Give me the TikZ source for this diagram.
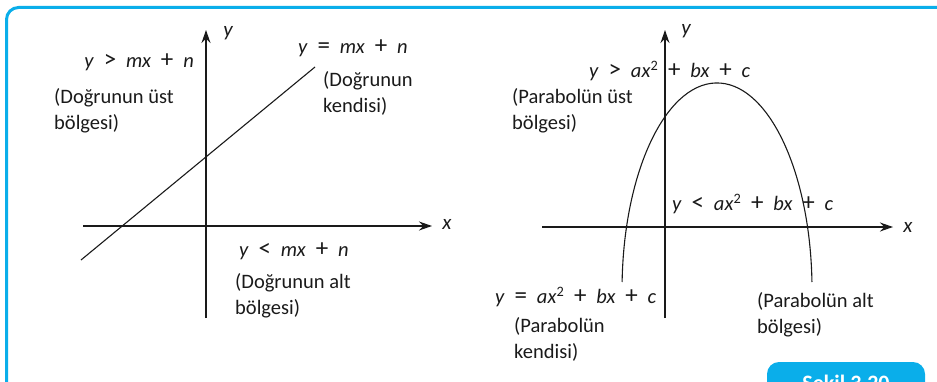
\documentclass[tikz,border=0pt]{standalone}
\usepackage{fontspec}
\setmainfont{Carlito}
\usetikzlibrary{arrows.meta}
\definecolor{ink}{HTML}{1A1A1A}
\definecolor{rimc}{HTML}{0AAEEA}
\tikzset{
  axis/.style={-{Stealth[length=13pt,width=9pt]},draw=ink,line width=1.1pt},
  graph/.style={draw=ink,line width=1.1pt},
  lbl/.style={font=\fontsize{20.5}{26}\selectfont,text=ink,inner sep=0pt,align=left},
  axl/.style={lbl,font=\fontsize{21}{26}\selectfont\itshape},
  rim/.style={draw=rimc,line width=3pt,rounded corners=12pt},
  tab/.style={fill=rimc,rounded corners=12pt},
}
\newcommand{\vr}[1]{\textit{#1}}
\newcommand{\sq}{\textsuperscript{2}}
\newcommand{\op}[1]{\hspace{.48em}{\fontsize{25}{26}\selectfont #1}\hspace{.48em}}

\begin{document}
\begin{tikzpicture}[x=1pt,y=1pt]
  \useasboundingbox (0,0) rectangle (937,381);
  \clip (0,0) rectangle (937,381);
  % frame and tab
  \draw[rim] (6.5,-20) -- (6.5,373.5) -- (960,373.5);
  \fill[tab] (767,-20) rectangle (925,19);
  \node[font=\fontsize{22}{24}\selectfont\bfseries,text=white] (sek) at (846,-4) {Şekil 3.20};

  % left: line
  \coordinate (xa1) at (83,155);  \coordinate (xb1) at (432,155);
  \coordinate (ya1) at (206,63);  \coordinate (yb1) at (206,351);
  \coordinate (la) at (81,121);   \coordinate (lb) at (315,314);
  \draw[axis] (xa1) -- (xb1);
  \draw[axis] (ya1) -- (yb1);
  \draw[graph] (la) -- (lb);
  \node[axl] (xl1) at (447,157) {x};
  \node[axl] (yl1) at (228,348) {y};
  \node[lbl,anchor=east] (ust1) at (194,319) {\vr{y}\op{>}\vr{mx}\op{+}\vr{n}};
  \node[lbl,anchor=west] (ustt1) at (54,270.5) {(Doğrunun üst\\bölgesi)};
  \node[lbl,anchor=west] (esit1) at (298,333) {\vr{y}\op{=}\vr{mx}\op{+}\vr{n}};
  \node[lbl,anchor=west] (esitt1) at (323,287.5) {(Doğrunun\\kendisi)};
  \node[lbl,anchor=west] (alt1) at (239,130) {\vr{y}\op{<}\vr{mx}\op{+}\vr{n}};
  \node[lbl,anchor=west] (altt1) at (235,85.5) {(Doğrunun alt\\bölgesi)};

  % right: parabola
  \coordinate (xa2) at (542,154); \coordinate (xb2) at (893,154);
  \coordinate (ya2) at (665,63);  \coordinate (yb2) at (665,351);
  \coordinate (pa) at (622.1,99);
  \draw[axis] (xa2) -- (xb2);
  \draw[axis] (ya2) -- (yb2);
  \draw[graph] (pa) arc[start angle=177.8,end angle=2.2,x radius=95pt,y radius=207pt];
  \node[axl] (xl2) at (908,154) {x};
  \node[axl] (yl2) at (686,350) {y};
  \node[lbl,anchor=west] (ust2) at (589,310) {\vr{y}\op{>}\vr{ax}\sq\op{+}\vr{bx}\op{+}\vr{c}};
  \node[lbl,anchor=west] (ustt2) at (512,270) {(Parabolün üst\\bölgesi)};
  \node[lbl,anchor=west] (alt2) at (672,177) {\vr{y}\op{<}\vr{ax}\sq\op{+}\vr{bx}\op{+}\vr{c}};
  \node[lbl,anchor=west] (esit2) at (495,84) {\vr{y}\op{=}\vr{ax}\sq\op{+}\vr{bx}\op{+}\vr{c}};
  \node[lbl,anchor=west] (esitt2) at (514,42) {(Parabolün\\kendisi)};
  \node[lbl,anchor=west] (altt2) at (757,66) {(Parabolün alt\\bölgesi)};
\end{tikzpicture}
\end{document}
